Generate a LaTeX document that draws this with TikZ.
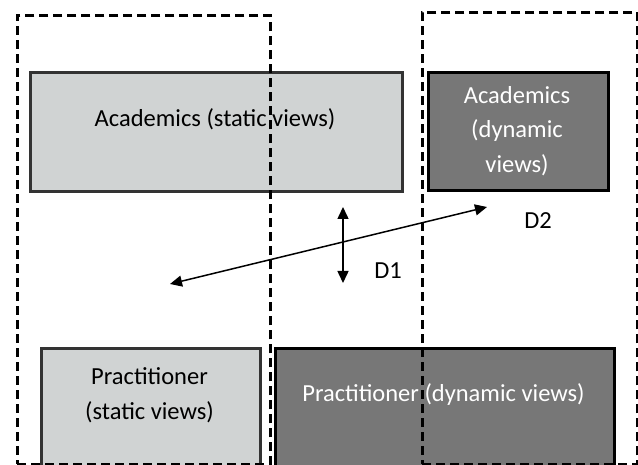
\documentclass[tikz,border=0pt]{standalone}
\usepackage{fontspec}
\setmainfont{Carlito}
\usetikzlibrary{arrows.meta}
\definecolor{lightbox}{HTML}{D0D3D3}
\definecolor{darkbox}{HTML}{777777}
\definecolor{lightedge}{HTML}{333333}
\tikzset{
  statbox/.style={draw=lightedge, line width=2.6pt, fill=lightbox, inner sep=0pt, anchor=north west},
  dynbox/.style={draw=black, line width=2.6pt, fill=darkbox, inner sep=0pt, anchor=north west},
  txt/.style={font=\fontsize{24.5}{34.5}\selectfont, align=center, inner sep=0pt},
  wtxt/.style={txt, text=white},
  group/.style={draw=black, line width=2.6pt, dash pattern=on 9pt off 5pt},
  arr/.style={line width=1.5pt, {Triangle[length=12pt,width=11pt]}-{Triangle[length=12pt,width=11pt]}}
}
\begin{document}
\begin{tikzpicture}[x=1pt,y=-1pt]
\useasboundingbox[fill=white] (0,0) rectangle (638,465);
% boxes
\node[statbox, minimum width=372pt, minimum height=119pt] (as) at (29,71) {};
\node[dynbox, minimum width=180pt, minimum height=118pt] (ad) at (427,71) {};
\node[statbox, minimum width=219pt, minimum height=130pt] (ps) at (40,347) {};
\node[dynbox, minimum width=339pt, minimum height=130pt] (pd) at (274,347) {};
% texts
\node[txt] (astxt) at (215,119) {Academics (static views)};
\node[wtxt] (adtxt) at (517,131) {Academics\\(dynamic\\views)};
\node[txt] (pstxt) at (149.5,395) {Practitioner\\(static views)};
\node[wtxt] (pdtxt) at (443.5,395) {Practitioner (dynamic views)};
% dashed groups
\node[group, inner sep=0pt, minimum width=253pt, minimum height=449pt, anchor=north west] (gl) at (16,14) {};
\node[group, inner sep=0pt, minimum width=215pt, minimum height=452pt, anchor=north west] (gr) at (421,11) {};
% arrows
\coordinate (d1t) at (343,207);
\coordinate (d1b) at (343,283);
\coordinate (d2l) at (170,284);
\coordinate (d2r) at (487,207);
\draw[arr] (d1t) -- (d1b);
\draw[arr] (d2l) -- (d2r);
\node[txt] (d1) at (388,271) {D1};
\node[txt] (d2) at (538,221) {D2};
\end{tikzpicture}
\end{document}
